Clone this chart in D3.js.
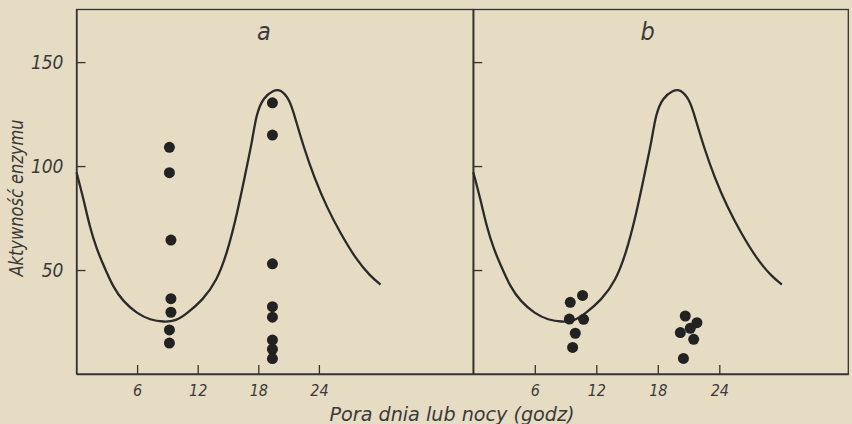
<!doctype html>
<html lang="pl">
  <head>
    <meta charset="utf-8">
    <title>Aktywność enzymu</title>
    <script src="https://d3js.org/d3.v7.min.js"></script>
    <style>
      html, body {
        margin: 0;
        padding: 0;
        background: #e6dcc3;
      }
      svg text {
        font-family: 'DejaVu Sans', sans-serif;
        font-stretch: condensed;
        font-style: italic;
        fill: #3a3a3a;
      }
      .axis path, .axis line {
        stroke: #333;
        stroke-width: 1.3;
      }
    </style>
  </head>
  <body>
    <div id="root"></div>
  </body>
  <script>

    //data:
    const xTicks = [6, 12, 18, 24];
    const yTicks = [50, 100, 150];

    // theoretical curve (same in both panels)
    const curveHours  = [0, 0.7, 1.3, 2, 2.7, 3.6, 4.6, 6, 7.3, 8.6, 9.9, 10.9, 12.5, 13.9, 14.9, 15.9, 16.7, 17.4, 17.8, 18.5, 19.5, 20.2, 21.1, 21.6, 22.5, 23.5, 24.8, 26.1, 27.7, 29.1, 30.1];
    const curveValues = [97, 84, 71, 60, 52, 42, 35, 29, 26, 25, 25.5, 29, 35.5, 45, 58, 77, 96, 112, 125, 133, 136.5, 137, 132, 124, 109, 95, 80, 68, 55, 47, 43];

    // panel a measurements
    const aHours  = [9.2, 9.2, 9.35, 9.35, 9.35, 9.2, 9.2, 19.4, 19.4, 19.4, 19.4, 19.4, 19.4, 19.4, 19.4];
    const aValues = [109, 96.8, 64.4, 36.2, 29.7, 21.2, 14.9, 130.4, 114.9, 53, 32.4, 27.3, 16.3, 11.9, 7.4];

    // panel b measurements
    const bHours  = [9.46, 10.66, 9.37, 10.76, 9.95, 9.69, 20.68, 21.82, 21.17, 20.2, 21.5, 20.5];
    const bValues = [34.5, 37.8, 26.4, 26.3, 19.6, 12.8, 27.9, 24.7, 22, 19.9, 16.7, 7.5];

    //constants:
    const width = 852;
    const height = 424;
    const plotTop = 9.5;
    const plotBottom = 374;
    const radius = 5.5;

    const svg = d3.select('#root')
      .append('svg')
      .attr('width', width)
      .attr('height', height);

    svg.append('rect')
      .attr('width', width)
      .attr('height', height)
      .attr('fill', '#e6dcc3');

    const yScale = d3.scaleLinear()
      .domain([0, 175.3])
      .range([plotBottom, plotTop]);

    const curve = curveHours.map((h, i) => [h, curveValues[i]]);

    const panels = [
      { name: 'a', left: 76.5, right: 473.3, perHour: 10.1, hours: aHours, values: aValues, labels: true },
      { name: 'b', left: 473.3, right: 848.3, perHour: 10.25, hours: bHours, values: bValues, labels: false }
    ];

    panels.forEach(p => {
      const xScale = d3.scaleLinear()
        .domain([0, (p.right - p.left) / p.perHour])
        .range([p.left, p.right]);

      const g = svg.append('g');

      // frame
      g.append('rect')
        .attr('x', p.left)
        .attr('y', plotTop)
        .attr('width', p.right - p.left)
        .attr('height', plotBottom - plotTop)
        .attr('fill', 'none')
        .attr('stroke', '#333')
        .attr('stroke-width', 1.3);

      // axes with inward ticks
      const xAxis = d3.axisBottom(xScale)
        .tickValues(xTicks)
        .tickSizeInner(-9)
        .tickSizeOuter(0)
        .tickPadding(11);

      const yAxis = d3.axisLeft(yScale)
        .tickValues(yTicks)
        .tickSizeInner(-9)
        .tickSizeOuter(0)
        .tickPadding(13)
        .tickFormat(p.labels ? d3.format('d') : '');

      g.append('g')
        .attr('class', 'axis')
        .attr('transform', `translate(0, ${plotBottom})`)
        .call(xAxis)
        .call(s => s.selectAll('text').style('font-size', '16px'));

      g.append('g')
        .attr('class', 'axis')
        .attr('transform', `translate(${p.left}, 0)`)
        .call(yAxis)
        .call(s => s.selectAll('text').style('font-size', '19px'));

      g.selectAll('.axis').attr('font-family', null).attr('font-size', null);
      g.selectAll('.axis text').attr('fill', null);

      // curve
      const line = d3.line()
        .x(d => xScale(d[0]))
        .y(d => yScale(d[1]))
        .curve(d3.curveBasis);

      g.append('path')
        .datum(curve)
        .attr('d', line)
        .attr('fill', 'none')
        .attr('stroke', '#2a2a2a')
        .attr('stroke-width', 2.3);

      // points
      g.selectAll('circle')
        .data(p.hours.map((h, i) => [h, p.values[i]]))
        .enter()
        .append('circle')
        .attr('cx', d => xScale(d[0]))
        .attr('cy', d => yScale(d[1]))
        .attr('r', radius)
        .attr('fill', '#222');

      // panel letter
      g.append('text')
        .attr('x', xScale(p.name === 'a' ? 18.55 : 17))
        .attr('y', 40)
        .attr('text-anchor', 'middle')
        .style('font-size', '25px')
        .text(p.name);
    });

    // axis titles
    svg.append('text')
      .attr('x', 452)
      .attr('y', 421)
      .attr('text-anchor', 'middle')
      .attr('textLength', 245)
      .attr('lengthAdjust', 'spacingAndGlyphs')
      .style('font-size', '19px')
      .text('Pora dnia lub nocy (godz)');

    svg.append('text')
      .attr('transform', 'translate(23, 198) rotate(-90)')
      .attr('text-anchor', 'middle')
      .attr('textLength', 157)
      .attr('lengthAdjust', 'spacingAndGlyphs')
      .style('font-size', '19px')
      .text('Aktywność enzymu');

  </script>
</html>
